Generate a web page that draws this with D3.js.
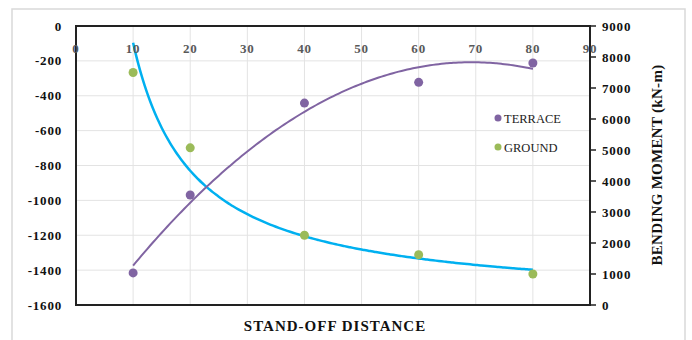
<!DOCTYPE html>
<html>
<head>
<meta charset="utf-8">
<script src="https://cdn.jsdelivr.net/npm/d3@7"></script>
<style>
  html, body { margin: 0; padding: 0; background: #fff; }
  svg { display: block; }
</style>
</head>
<body>
<svg id="chart" width="692" height="340" font-family="'Liberation Serif', 'DejaVu Serif', serif"></svg>
<script>
// Stand-off distance (m)
const distances = [10, 20, 40, 60, 80];
// Bending moment, terrace blast (left axis)
const terrace = [-1416, -969, -442, -323, -212];
// Bending moment, ground blast (right axis, kN-m)
const ground = [7500, 5070, 2250, 1620, 1000];

const xTicks = [0, 10, 20, 30, 40, 50, 60, 70, 80, 90];
const leftTicks = [0, -200, -400, -600, -800, -1000, -1200, -1400, -1600];
const rightTicks = [0, 1000, 2000, 3000, 4000, 5000, 6000, 7000, 8000, 9000];

const svg = d3.select("#chart");
const plot = { left: 76, right: 590, top: 26, bottom: 305 };

const x = d3.scaleLinear().domain([0, 90]).range([plot.left, plot.right]);
const yL = d3.scaleLinear().domain([-1600, 0]).range([plot.bottom, plot.top]);
const yR = d3.scaleLinear().domain([0, 9000]).range([plot.bottom, plot.top]);

// outer frame
svg.append("rect")
  .attr("x", 12).attr("y", 9).attr("width", 673).attr("height", 340)
  .attr("fill", "#fff").attr("stroke", "#d9d9d9").attr("stroke-width", 1.5);

// gridlines
const grid = svg.append("g").attr("stroke", "#e3e3e3").attr("stroke-width", 1);
grid.selectAll("line.h").data(leftTicks).join("line")
  .attr("x1", plot.left).attr("x2", plot.right)
  .attr("y1", d => yL(d)).attr("y2", d => yL(d));
grid.selectAll("line.v").data(xTicks).join("line")
  .attr("y1", plot.top).attr("y2", plot.bottom)
  .attr("x1", d => x(d)).attr("x2", d => x(d));

// least-squares quadratic trend for terrace
function quadFit(xs, ys) {
  const s = [0, 0, 0, 0, 0], t = [0, 0, 0];
  xs.forEach((xi, i) => {
    for (let k = 0; k < 5; k++) s[k] += Math.pow(xi, k);
    for (let k = 0; k < 3; k++) t[k] += Math.pow(xi, k) * ys[i];
  });
  const A = [[s[0], s[1], s[2], t[0]], [s[1], s[2], s[3], t[1]], [s[2], s[3], s[4], t[2]]];
  for (let i = 0; i < 3; i++) {
    for (let j = i + 1; j < 3; j++) {
      const f = A[j][i] / A[i][i];
      for (let k = i; k < 4; k++) A[j][k] -= f * A[i][k];
    }
  }
  const c = [0, 0, 0];
  for (let i = 2; i >= 0; i--) {
    let v = A[i][3];
    for (let k = i + 1; k < 3; k++) v -= A[i][k] * c[k];
    c[i] = v / A[i][i];
  }
  return v => c[0] + c[1] * v + c[2] * v * v;
}
// power-law trend for ground (fit in log space)
function powFit(xs, ys) {
  const lx = xs.map(Math.log), ly = ys.map(Math.log);
  const mx = d3.mean(lx), my = d3.mean(ly);
  const b = d3.sum(lx, (v, i) => (v - mx) * (ly[i] - my)) / d3.sum(lx, v => (v - mx) ** 2);
  const a = Math.exp(my - b * mx);
  return v => a * Math.pow(v, b);
}

const terraceFn = quadFit(distances, terrace);
const groundFn = powFit(distances, ground);
const xs = d3.range(10, 80.01, 0.5);

svg.append("path")
  .datum(xs)
  .attr("fill", "none").attr("stroke", "#00B0F0").attr("stroke-width", 2.5)
  .attr("d", d3.line().x(d => x(d)).y(d => yR(groundFn(d))).curve(d3.curveMonotoneX));

svg.append("path")
  .datum(xs)
  .attr("fill", "none").attr("stroke", "#8064A2").attr("stroke-width", 2)
  .attr("d", d3.line().x(d => x(d)).y(d => yL(terraceFn(d))).curve(d3.curveMonotoneX));

// data points
svg.append("g").selectAll("circle").data(distances).join("circle")
  .attr("cx", d => x(d)).attr("cy", (d, i) => yL(terrace[i]))
  .attr("r", 4.5).attr("fill", "#8064A2");
svg.append("g").selectAll("circle").data(distances).join("circle")
  .attr("cx", d => x(d)).attr("cy", (d, i) => yR(ground[i]))
  .attr("r", 4.5).attr("fill", "#9BBB59");

// plot border / axis lines
svg.append("rect")
  .attr("x", plot.left).attr("y", plot.top)
  .attr("width", plot.right - plot.left).attr("height", plot.bottom - plot.top)
  .attr("fill", "none").attr("stroke", "#222").attr("stroke-width", 2);

// left axis labels
svg.append("g").selectAll("text").data(leftTicks).join("text")
  .attr("x", 62).attr("y", d => yL(d) + 4.5)
  .attr("text-anchor", "end")
  .attr("font-size", 13).attr("font-weight", "bold").attr("letter-spacing", 0.8)
  .attr("fill", "#111")
  .text(d => d);

// x axis labels (inside plot, near top)
svg.append("g").selectAll("text").data(xTicks).join("text")
  .attr("x", d => x(d)).attr("y", 53)
  .attr("text-anchor", "middle")
  .attr("font-size", 13).attr("font-weight", "bold").attr("letter-spacing", 0.8)
  .attr("fill", "#595959")
  .text(d => d);

// right axis ticks and labels
const rAxis = svg.append("g");
rAxis.selectAll("line").data(rightTicks).join("line")
  .attr("x1", plot.right).attr("x2", plot.right + 6)
  .attr("y1", d => yR(d)).attr("y2", d => yR(d))
  .attr("stroke", "#222").attr("stroke-width", 1.5);
rAxis.selectAll("text").data(rightTicks).join("text")
  .attr("x", 602).attr("y", d => yR(d) + 4.5)
  .attr("font-size", 13).attr("font-weight", "bold").attr("letter-spacing", 0.8)
  .attr("fill", "#111")
  .text(d => d);

// axis titles
svg.append("text")
  .attr("x", 335).attr("y", 331)
  .attr("text-anchor", "middle")
  .attr("font-size", 15).attr("font-weight", "bold").attr("letter-spacing", 1)
  .attr("fill", "#111")
  .text("STAND-OFF DISTANCE");

svg.append("text")
  .attr("transform", "translate(662,165) rotate(-90)")
  .attr("text-anchor", "middle")
  .attr("font-size", 15).attr("font-weight", "bold").attr("letter-spacing", 0.3)
  .attr("fill", "#111")
  .text("BENDING MOMENT (kN-m)");

// legend
const legend = [
  { name: "TERRACE", color: "#8064A2", y: 118 },
  { name: "GROUND", color: "#9BBB59", y: 147 }
];
const lg = svg.append("g").selectAll("g").data(legend).join("g");
lg.append("circle").attr("cx", 498).attr("cy", d => d.y).attr("r", 3.5).attr("fill", d => d.color);
lg.append("text").attr("x", 504).attr("y", d => d.y + 4.5)
  .attr("font-size", 12.5).attr("fill", "#222")
  .text(d => d.name);
</script>
</body>
</html>
